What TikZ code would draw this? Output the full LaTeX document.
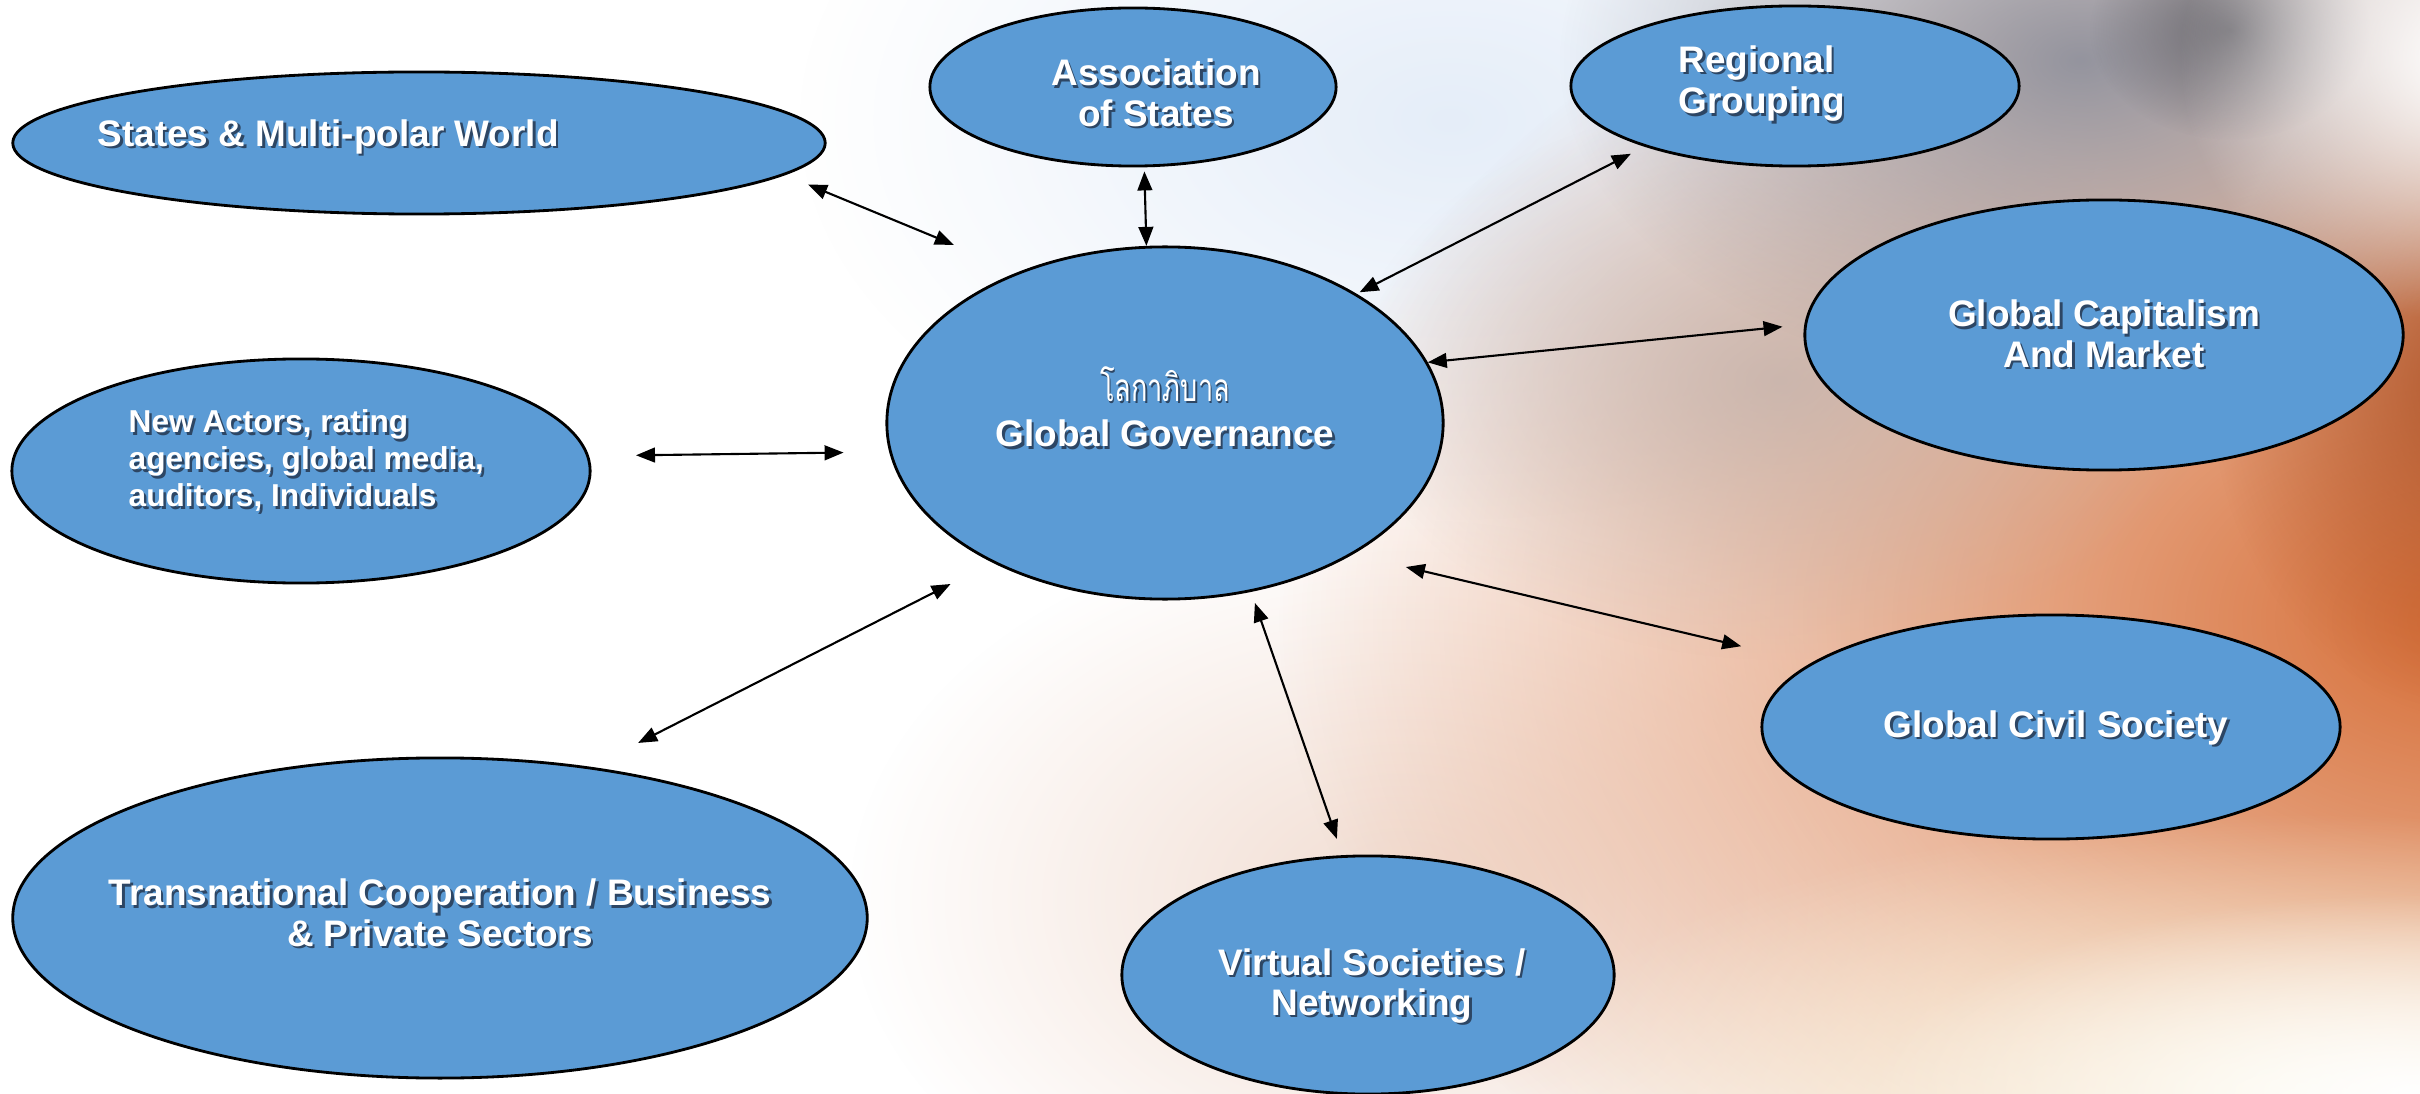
\documentclass[tikz,border=0pt]{standalone}
\usepackage{fontspec}
\usepackage{graphicx}
\setmainfont{Liberation Sans}
\newfontfamily\thaifont[Script=Thai]{Loma}
\usetikzlibrary{shapes.geometric,arrows.meta,fadings}
\definecolor{bubblue}{RGB}{91,155,213}
\definecolor{shc}{RGB}{45,70,100}
\definecolor{orangeC}{RGB}{214,108,52}
\definecolor{brownC}{RGB}{170,78,34}
\definecolor{grayC}{RGB}{148,148,158}
\definecolor{taupeC}{RGB}{192,176,170}
\definecolor{peachC}{RGB}{238,212,198}
\definecolor{darkC}{RGB}{75,75,82}
\definecolor{blueC}{RGB}{218,230,246}
\definecolor{creamC}{RGB}{250,244,222}
\tikzfading[name=softblob, inner color=transparent!0, outer color=transparent!100]
\newcommand\sh[1]{\leavevmode\rlap{\hspace{0.7pt}\raisebox{-0.7pt}{\textcolor{shc}{#1}}}#1}
\tikzset{
  bub/.style={ellipse, draw=black, line width=0.8pt, fill=bubblue, inner sep=0pt},
  lbl/.style={text=white, font=\fontsize{10.5}{11.4}\selectfont\bfseries, align=center, inner sep=0pt},
  link/.style={line width=0.6pt, {Triangle[length=5.4pt,width=4.2pt]}-{Triangle[length=5.4pt,width=4.2pt]}},
}
\begin{document}
\begin{tikzpicture}[x=0.01cm,y=-0.01cm]
\useasboundingbox (0,0) rectangle (2420,1094);
% background
\begin{scope}
\clip (0,0) rectangle (2420,1094);
\fill[white] (0,0) rectangle (2420,1094);
\fill[blueC, path fading=softblob, opacity=0.7] (1450,120) ellipse (650 and 400);
\fill[peachC, path fading=softblob, opacity=0.8] (1400,900) ellipse (550 and 380);
\fill[orangeC, path fading=softblob] (2480,620) ellipse (1200 and 800);
\fill[brownC, path fading=softblob, opacity=0.85] (2470,380) ellipse (260 and 330);
\fill[taupeC, path fading=softblob, opacity=0.75] (1780,380) ellipse (430 and 280);
\fill[grayC, path fading=softblob] (2080,60) ellipse (520 and 330);
\fill[darkC, path fading=softblob, opacity=0.65] (2230,30) ellipse (140 and 110);
\fill[white, path fading=softblob] (2460,60) ellipse (280 and 260);
\fill[creamC, path fading=softblob] (2300,1094) ellipse (800 and 280);
\fill[white, path fading=softblob] (2420,1094) ellipse (550 and 200);
\end{scope}
% ellipses
\node[bub, minimum width=8.12cm, minimum height=1.42cm] (sw) at (419,143) {};
\node[bub, minimum width=4.06cm, minimum height=1.58cm] (as) at (1133,87) {};
\node[bub, minimum width=4.48cm, minimum height=1.60cm] (rg) at (1795,86) {};
\node[bub, minimum width=5.98cm, minimum height=2.70cm] (gc) at (2104,335) {};
\node[bub, minimum width=5.78cm, minimum height=2.24cm] (cs) at (2051,727) {};
\node[bub, minimum width=4.92cm, minimum height=2.38cm] (vs) at (1368,975) {};
\node[bub, minimum width=8.54cm, minimum height=3.20cm] (tc) at (440,918) {};
\node[bub, minimum width=5.78cm, minimum height=2.24cm] (na) at (301,471) {};
\node[bub, minimum width=5.56cm, minimum height=3.52cm] (gg) at (1165,423) {};
% labels
\node[lbl, anchor=west] (swt) at (97,138) {\sh{States \& Multi-polar World}};
\node[lbl] (ast) at (1156,94) {\sh{Association}\\\sh{of States}};
\node[lbl, anchor=west, align=left, font=\fontsize{10.5}{11.8}\selectfont\bfseries] (rgt) at (1678,85) {\sh{Regional}\\\sh{Grouping}};
\node[lbl] (gct) at (2104,335) {\sh{Global Capitalism}\\\sh{And Market}};
\node[lbl] (cst) at (2056,729) {\sh{Global Civil Society}};
\node[lbl] (vst) at (1372,987) {\sh{Virtual Societies /}\\\sh{Networking}};
\node[lbl] (tct) at (440,914) {\sh{Transnational Cooperation / Business}\\\sh{\& Private Sectors}};
\node[lbl, anchor=west, align=left, font=\fontsize{9}{10.5}\selectfont\bfseries] (nat) at (128,462) {\sh{New Actors, rating}\\\sh{agencies, global media,}\\\sh{auditors, Individuals}};
\node[lbl, font=\thaifont\fontsize{11}{12}\selectfont] (ggth) at (1165,385) {\scalebox{0.7}[1]{\sh{โลกาภิบาล}}};
\node[lbl] (ggt) at (1165,435) {\sh{Global Governance}};
% connectors
\draw[link, shorten <=0.253cm, shorten >=0.703cm] (sw.-5.1) -- (gg.134.9);
\draw[link, shorten <=0.041cm] (as.-82.1) -- (gg.96.8);
\draw[link, shorten <=0.155cm, shorten >=0.033cm] (rg.202.0) -- (gg.34.1);
\draw[link, shorten <=0.219cm] (gc.178.1) -- (gg.13.7);
\draw[link, shorten <=0.721cm, shorten >=0.545cm] (cs.165.4) -- (gg.-35.9);
\draw[link, shorten <=0.172cm, shorten >=0.117cm] (vs.102.0) -- (gg.-63.7);
\draw[link, shorten <=0.527cm, shorten >=0.470cm] (tc.45.6) -- (gg.219.05);
\draw[link, shorten <=0.470cm, shorten >=0.456cm] (na.3.2) -- (gg.186.7);
\end{tikzpicture}
\end{document}
